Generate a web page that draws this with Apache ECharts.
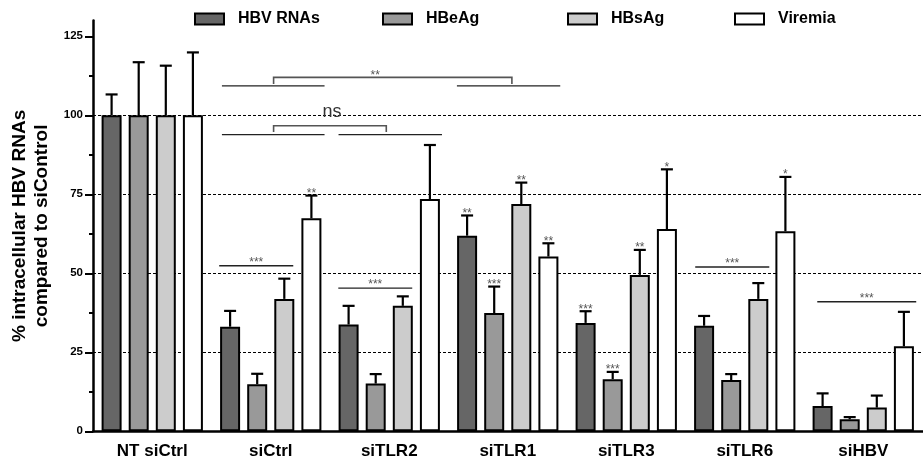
<!DOCTYPE html>
<html><head><meta charset="utf-8">
<script src="https://cdn.jsdelivr.net/npm/echarts@6/dist/echarts.min.js"></script>
<style>html,body{margin:0;padding:0;background:#fff}#c{width:923px;height:461px}</style>
</head><body><div id="c"></div>
<script>
// ---------- data ----------
const categories = ['NT siCtrl', 'siCtrl', 'siTLR2', 'siTLR1', 'siTLR3', 'siTLR6', 'siHBV'];
const seriesNames = ['HBV RNAs', 'HBeAg', 'HBsAg', 'Viremia'];

const hbvRNAs      = [100, 33.1, 33.8, 61.9, 34.3, 33.4, 8.0];
const hbvRNAsSD    = [6.6, 5.0, 5.9, 6.4, 3.7, 3.1, 4.0];
const hbvRNAsStars = ['', '', '', '**', '***', '', ''];

const hbeAg      = [100, 14.9, 15.1, 37.4, 16.5, 16.2, 3.8];
const hbeAgSD    = [16.8, 3.3, 3.0, 8.4, 2.3, 1.9, 0.7];
const hbeAgStars = ['', '', '', '***', '***', '', ''];

const hbsAg      = [100, 41.9, 39.7, 71.9, 49.5, 41.9, 7.5];
const hbsAgSD    = [15.7, 6.4, 3.0, 6.8, 7.9, 5.0, 3.8];
const hbsAgStars = ['', '', '', '**', '**', '', ''];

const viremia      = [100, 67.4, 73.5, 55.3, 64.0, 63.3, 26.9];
const viremiaSD    = [19.9, 7.2, 17.1, 4.2, 18.9, 17.2, 10.9];
const viremiaStars = ['', '**', '', '**', '*', '*', ''];

const yTickValues = [0, 25, 50, 75, 100, 125];
const yMinorTickValues = [12.5, 37.5, 62.5, 87.5, 112.5];

// significance lines: [xStart, xEnd, y, label]  (x in category units)
const sigLines = [
  [0.565, 1.19, 52.4, '***'],
  [1.57, 2.194, 45.3, '***'],
  [4.582, 5.207, 52.0, '***'],
  [5.612, 6.447, 41.0, '***'],
  [0.588, 1.454, 109.3, ''],
  [2.571, 3.443, 109.3, ''],
  [0.588, 1.454, 93.9, ''],
  [1.572, 2.445, 93.9, '']
];
// brackets: [xLeft, xRight, yTop, yLegEnd, label, labelX, labelY]
const sigBrackets = [
  [1.024, 3.035, 112.0, 109.9, '**', 1.882, 112.0],
  [1.024, 1.975, 96.7, 94.7, 'ns', 1.516, 101.0]
];

// ---------- style ----------
const FONT = '"Liberation Sans", Arial, Helvetica, sans-serif';
const fills = ['#666666', '#999999', '#cccccc', '#ffffff'];
const BAR_W = 20, BAR_GAP = 0.355, CAP = 12;
const STEP = BAR_W * (1 + BAR_GAP);

const values = [hbvRNAs, hbeAg, hbsAg, viremia];
const sds = [hbvRNAsSD, hbeAgSD, hbsAgSD, viremiaSD];
const stars = [hbvRNAsStars, hbeAgStars, hbsAgStars, viremiaStars];

const chart = echarts.init(document.getElementById('c'), null, {renderer: 'canvas'});

const barSeries = seriesNames.map((n, k) => ({
  name: n, type: 'bar', data: values[k], barWidth: BAR_W, barGap: (BAR_GAP * 100) + '%',
  itemStyle: {color: fills[k], borderColor: '#000', borderWidth: 2},
  emphasis: {disabled: true}, z: 2
}));

const errSeries = seriesNames.map((n, k) => ({
  type: 'custom', xAxisIndex: 0, yAxisIndex: 0, z: 4, silent: true,
  data: values[k].map((v, i) => [i, v, v + sds[k][i]]),
  renderItem(params, api) {
    const i = api.value(0);
    const base = api.coord([i, api.value(1)]);
    const top = api.coord([i, api.value(2)]);
    const x = base[0] + (k - 1.5) * STEP;
    const ch = [
      {type: 'line', shape: {x1: x, y1: base[1], x2: x, y2: top[1]}, style: {stroke: '#000', lineWidth: 2.2}},
      {type: 'line', shape: {x1: x - CAP / 2, y1: top[1], x2: x + CAP / 2, y2: top[1]}, style: {stroke: '#000', lineWidth: 2.2}}
    ];
    const s = stars[k][params.dataIndex];
    if (s) ch.push({type: 'text', style: {text: s, x: x, y: top[1] + 4, align: 'center', verticalAlign: 'bottom',
      font: '12px ' + FONT, fill: '#555'}});
    return {type: 'group', children: ch};
  }
}));

const lineSeries = {
  type: 'custom', xAxisIndex: 1, yAxisIndex: 0, z: 5, silent: true,
  data: sigLines.map(d => [d[0], d[1], d[2]]),
  renderItem(params, api) {
    const a = api.coord([api.value(0), api.value(2)]);
    const b = api.coord([api.value(1), api.value(2)]);
    const ch = [{type: 'line', shape: {x1: a[0], y1: a[1], x2: b[0], y2: b[1]}, style: {stroke: '#222', lineWidth: 1.4}}];
    const lab = sigLines[params.dataIndex][3];
    if (lab) ch.push({type: 'text', style: {text: lab, x: (a[0] + b[0]) / 2, y: a[1] + 3, align: 'center', verticalAlign: 'bottom',
      font: '12px ' + FONT, fill: '#555'}});
    return {type: 'group', children: ch};
  }
};

const bracketSeries = {
  type: 'custom', xAxisIndex: 1, yAxisIndex: 0, z: 5, silent: true,
  data: sigBrackets.map(d => [d[0], d[1], d[2], d[3], d[5], d[6]]),
  renderItem(params, api) {
    const l = api.coord([api.value(0), api.value(2)]);
    const r = api.coord([api.value(1), api.value(2)]);
    const legY = api.coord([api.value(0), api.value(3)])[1];
    const lp = api.coord([api.value(4), api.value(5)]);
    const lab = sigBrackets[params.dataIndex][4];
    const isNs = lab === 'ns';
    return {type: 'group', children: [
      {type: 'polyline', shape: {points: [[l[0], legY], [l[0], l[1]], [r[0], r[1]], [r[0], legY]]},
        style: {stroke: '#555', lineWidth: 1.6, fill: null}},
      {type: 'text', style: {text: lab, x: lp[0], y: isNs ? lp[1] : lp[1] + 4, align: 'center',
        verticalAlign: isNs ? 'middle' : 'bottom',
        font: (isNs ? '18px ' : '12px ') + FONT, fill: isNs ? '#333' : '#555'}}
    ]};
  }
};

const legendLeft = [194, 382, 567, 734];
const option = {
  animation: false,
  backgroundColor: '#fff',
  textStyle: {fontFamily: FONT},
  legend: seriesNames.map((n, k) => ({
    data: [n], left: legendLeft[k], top: 11, padding: 0, icon: 'rect',
    itemWidth: 29, itemHeight: 11, selectedMode: false,
    itemStyle: {borderColor: '#000', borderWidth: 2},
    textStyle: {fontSize: 16, fontWeight: 'bold', color: '#000', fontFamily: FONT, padding: [0, 0, 0, 9]}
  })),
  grid: {left: 93, right: 0.5, top: 20.5, bottom: 29.7, containLabel: false},
  xAxis: [{
    type: 'category', data: categories, boundaryGap: true,
    axisLine: {onZero: false, lineStyle: {color: '#000', width: 2.5}},
    axisTick: {alignWithLabel: true, length: 6, lineStyle: {color: '#000', width: 2}},
    axisLabel: {fontSize: 17, fontWeight: 'bold', color: '#000', margin: 12, fontFamily: FONT, interval: 0},
    splitLine: {show: false}
  }, {
    type: 'value', min: -0.5, max: 6.5, show: false,
    axisLine: {onZero: false}
  }],
  yAxis: [{
    type: 'value', min: 0, max: 130, interval: 25,
    name: '% intracellular HBV RNAs\ncompared to siControl',
    nameLocation: 'middle', nameRotate: 90, nameGap: 31,
    nameTextStyle: {fontSize: 19, fontWeight: 'bold', color: '#000', lineHeight: 22, fontFamily: FONT},
    axisLine: {show: true, onZero: false, lineStyle: {color: '#000', width: 2.5}},
    axisTick: {show: true, length: 8, customValues: yTickValues, lineStyle: {color: '#000', width: 2}},
    axisLabel: {customValues: yTickValues, fontSize: 11.5, fontWeight: 'bold', color: '#000', margin: 10, fontFamily: FONT},
    splitLine: {show: true, showMinLine: false, showMaxLine: false, lineStyle: {type: [3, 2], color: '#000', width: 1}}
  }, {
    type: 'value', min: 0, max: 130, interval: 25, position: 'left',
    axisLine: {show: false, onZero: false}, axisLabel: {show: false}, splitLine: {show: false},
    axisTick: {show: true, length: 4, customValues: yMinorTickValues, lineStyle: {color: '#000', width: 2}}
  }],
  series: [...barSeries, ...errSeries, lineSeries, bracketSeries]
};
chart.setOption(option);
</script>
</body></html>
